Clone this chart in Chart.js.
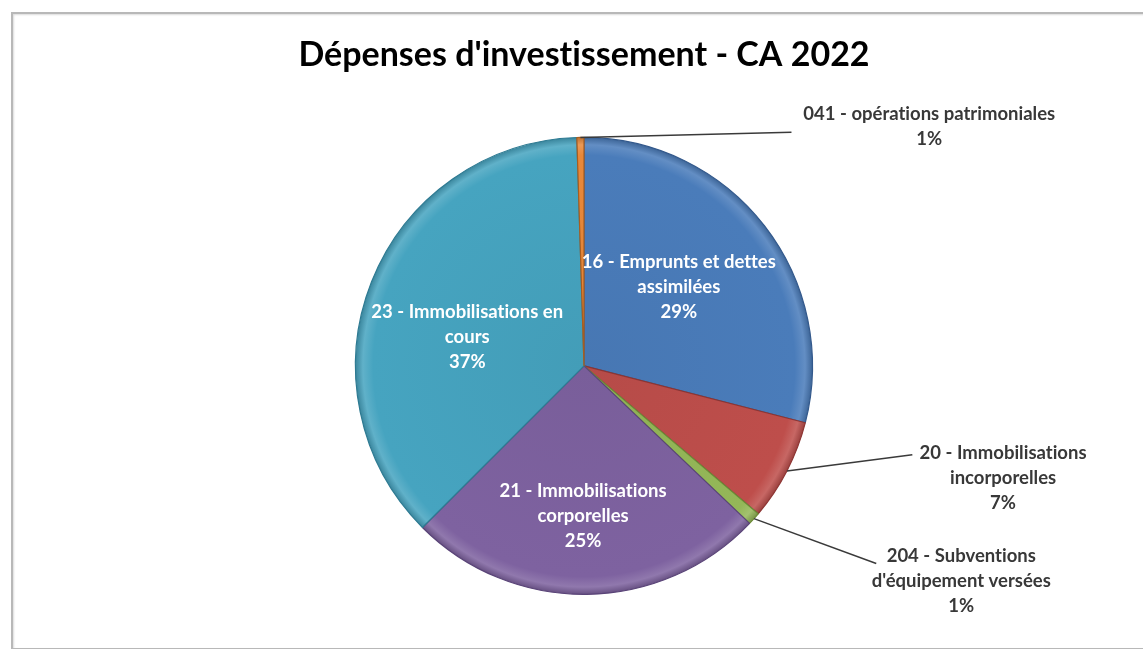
<!DOCTYPE html>
<html>
<head>
<meta charset="utf-8">
<script src="https://cdn.jsdelivr.net/npm/chart.js@4.4.0/dist/chart.umd.min.js"></script>
<style>
html, body { margin: 0; padding: 0; background: #fff; overflow: hidden; }
#frame { position: absolute; left: 11px; top: 12px; width: 1160px; height: 634px; border: 2px solid #b8b8b8; box-shadow: inset 1px 1px 2px #dcdcdc; }
#wrap { position: absolute; left: 0; top: 0; width: 1143px; height: 649px; }
</style>
</head>
<body>
<div id="frame"></div>
<div id="wrap"><canvas id="chart"></canvas></div>
<script>
// slices, clockwise from 12 o'clock
const categories = [
    ["16 - Emprunts et dettes", "assimilées"],
    ["20 - Immobilisations", "incorporelles"],
    ["204 - Subventions", "d'équipement versées"],
    ["21 - Immobilisations", "corporelles"],
    ["23 - Immobilisations en", "cours"],
    ["041 - opérations patrimoniales"]
];
const shares = [29.0, 7.2, 0.9, 25.4, 37.0, 0.5];
const sliceColors = ["#4a7cba", "#be4e4b", "#94b758", "#7e62a0", "#46a4c0", "#e8883a"];
const edgeColors = ["#33598c", "#8e3533", "#6b8a36", "#5a4478", "#2d7a92", "#a85d1f"];

// label placement, relative to pie centre in units of radius
const labelSpots = [
    { inside: true, x: 0.415, y: -0.345 },
    { inside: false, x: 1.834, y: 0.489, ex: 1.437, ey: 0.389 },
    { inside: false, x: 1.651, y: 0.943, ex: 1.279, ey: 0.865 },
    { inside: true, x: -0.004, y: 0.659 },
    { inside: true, x: -0.511, y: -0.127 },
    { inside: false, x: 1.511, y: -1.048, ex: 0.908, ey: -1.022 }
];

function shade(hex, f) {
    var n = parseInt(hex.slice(1), 16);
    var r = n >> 16, g = (n >> 8) & 255, b = n & 255;
    var m = c => Math.max(0, Math.min(255, Math.round(f > 0 ? c + (255 - c) * f : c * (1 + f))));
    return "rgb(" + m(r) + "," + m(g) + "," + m(b) + ")";
}

function sliceFill(context) {
    var chart = context.chart, area = chart.chartArea;
    var base = sliceColors[context.dataIndex];
    if (!area) return base;
    var cx = (area.left + area.right) / 2, cy = (area.top + area.bottom) / 2;
    var r = Math.min(area.right - area.left, area.bottom - area.top) / 2;
    var g = chart.ctx.createRadialGradient(cx, cy, 0, cx, cy, r);
    g.addColorStop(0, shade(base, -0.04));
    g.addColorStop(0.92, base);
    g.addColorStop(0.965, shade(base, 0.14));
    g.addColorStop(1, shade(base, -0.2));
    return g;
}

// no "ti" ligatures (Lato has them, the original Calibri text does not)
const noLigatures = {
    id: "noLigatures",
    beforeDraw(chart) {
        chart.ctx.textRendering = "optimizeSpeed";
    }
};

const sliceLabels = {
    id: "sliceLabels",
    afterDatasetsDraw(chart) {
        var ctx = chart.ctx;
        var meta = chart.getDatasetMeta(0);
        var total = shares.reduce((a, b) => a + b, 0);
        meta.data.forEach((arc, i) => {
            var p = arc.getProps(["x", "y", "startAngle", "endAngle", "outerRadius"], true);
            var mid = (p.startAngle + p.endAngle) / 2;
            var spot = labelSpots[i];
            var lines = categories[i].concat(Math.round(shares[i] / total * 100) + "%");
            var lx = p.x + spot.x * p.outerRadius, ly = p.y + spot.y * p.outerRadius;
            ctx.save();
            ctx.textRendering = "optimizeSpeed";
            if (!spot.inside) {
                ctx.strokeStyle = "#3a3a3a";
                ctx.lineWidth = 1.5;
                ctx.beginPath();
                ctx.moveTo(p.x + Math.cos(mid) * p.outerRadius, p.y + Math.sin(mid) * p.outerRadius);
                ctx.lineTo(p.x + spot.ex * p.outerRadius, p.y + spot.ey * p.outerRadius);
                ctx.stroke();
            }
            ctx.font = "bold 18.5px Lato";
            ctx.textAlign = "center";
            ctx.textBaseline = "middle";
            ctx.fillStyle = spot.inside ? "#ffffff" : "#383838";
            lines.forEach((t, k) => {
                ctx.fillText(t, lx, ly + (k - (lines.length - 1) / 2) * 25);
            });
            ctx.restore();
        });
    }
};

new Chart(document.getElementById("chart"), {
    type: "pie",
    data: {
        labels: categories,
        datasets: [{
            data: shares,
            backgroundColor: sliceFill,
            borderColor: edgeColors,
            borderWidth: 1.2
        }]
    },
    options: {
        responsive: true,
        maintainAspectRatio: false,
        animation: false,
        layout: { padding: { top: 20, bottom: 54, left: 25, right: 0 } },
        plugins: {
            legend: { display: false },
            tooltip: { enabled: false },
            title: {
                display: true,
                text: "Dépenses d'investissement - CA 2022",
                color: "#000",
                font: { family: "Lato", size: 34, weight: "bold" },
                padding: { top: 15, bottom: 61 }
            }
        }
    },
    plugins: [noLigatures, sliceLabels]
});
</script>
</body>
</html>
